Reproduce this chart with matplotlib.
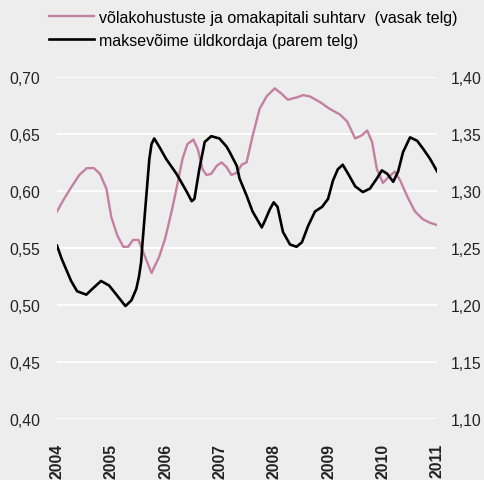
import matplotlib
matplotlib.use("Agg")
import matplotlib.pyplot as plt

plt.rcParams['font.family'] = ['Liberation Sans', 'DejaVu Sans']

# debt to equity ratio (left axis)
ratio_t = [2004.00, 2004.13, 2004.26, 2004.41, 2004.55, 2004.68, 2004.79, 2004.91,
           2005.00, 2005.11, 2005.22, 2005.31, 2005.40, 2005.50, 2005.64, 2005.74,
           2005.88, 2005.99, 2006.11, 2006.20, 2006.31, 2006.40, 2006.51, 2006.59,
           2006.68, 2006.75, 2006.84, 2006.94, 2007.03, 2007.12, 2007.21, 2007.31,
           2007.40, 2007.49, 2007.60, 2007.73, 2007.86, 2008.01, 2008.14, 2008.25,
           2008.41, 2008.53, 2008.65, 2008.84, 2009.02, 2009.21, 2009.34, 2009.49,
           2009.62, 2009.71, 2009.80, 2009.89, 2010.00, 2010.10, 2010.22, 2010.32,
           2010.45, 2010.59, 2010.74, 2010.87, 2011.00]
ratio_v = [0.582, 0.593, 0.603, 0.614, 0.620, 0.620, 0.615, 0.602,
           0.577, 0.561, 0.551, 0.551, 0.557, 0.557, 0.540, 0.528,
           0.542, 0.558, 0.582, 0.602, 0.628, 0.641, 0.645, 0.637,
           0.619, 0.614, 0.615, 0.622, 0.625, 0.621, 0.614, 0.616,
           0.623, 0.625, 0.648, 0.672, 0.683, 0.690, 0.685, 0.680,
           0.682, 0.684, 0.683, 0.678, 0.672, 0.667, 0.661, 0.646,
           0.649, 0.653, 0.643, 0.619, 0.607, 0.612, 0.617, 0.609,
           0.595, 0.582, 0.575, 0.572, 0.570]

# solvency ratio (right axis)
solv_t = [2004.00, 2004.09, 2004.26, 2004.37, 2004.54, 2004.65, 2004.81, 2004.96,
          2005.11, 2005.26, 2005.37, 2005.46, 2005.51, 2005.55, 2005.57, 2005.64,
          2005.70, 2005.74, 2005.79, 2005.88, 2006.01, 2006.20, 2006.38, 2006.48,
          2006.53, 2006.62, 2006.72, 2006.84, 2006.99, 2007.12, 2007.18, 2007.31,
          2007.36, 2007.49, 2007.60, 2007.77, 2007.82, 2007.92, 2007.99, 2008.06,
          2008.16, 2008.29, 2008.41, 2008.51, 2008.62, 2008.75, 2008.88, 2008.99,
          2009.08, 2009.17, 2009.26, 2009.36, 2009.49, 2009.63, 2009.76, 2009.89,
          2009.98, 2010.08, 2010.19, 2010.28, 2010.37, 2010.50, 2010.63, 2010.74,
          2010.87, 2011.00]
solv_v = [1.252, 1.240, 1.221, 1.212, 1.209, 1.214, 1.221, 1.217,
          1.208, 1.199, 1.204, 1.214, 1.225, 1.238, 1.252, 1.293,
          1.328, 1.341, 1.346, 1.339, 1.328, 1.315, 1.300, 1.291,
          1.293, 1.319, 1.343, 1.348, 1.346, 1.339, 1.334, 1.322,
          1.311, 1.296, 1.282, 1.268, 1.273, 1.284, 1.290, 1.286,
          1.264, 1.253, 1.251, 1.255, 1.269, 1.282, 1.286, 1.293,
          1.309, 1.319, 1.323, 1.315, 1.304, 1.299, 1.302, 1.311,
          1.318, 1.315, 1.308, 1.317, 1.334, 1.347, 1.344, 1.337,
          1.328, 1.317]

years = list(range(2004, 2012))
left_ticks = [0.40, 0.45, 0.50, 0.55, 0.60, 0.65, 0.70]
right_ticks = [1.10, 1.15, 1.20, 1.25, 1.30, 1.35, 1.40]

bg = '#ECEDEC'
pink = '#C47FA3'

fig = plt.figure(figsize=(4.85, 4.81), dpi=100, facecolor=bg)
ax = fig.add_axes([0.1175, 0.127, 0.784, 0.711], facecolor=bg)
ax2 = ax.twinx()

l1, = ax.plot(ratio_t, ratio_v, color=pink, lw=1.7, zorder=3,
              label='võlakohustuste ja omakapitali suhtarv  (vasak telg)')
l2, = ax2.plot(solv_t, solv_v, color='black', lw=1.9, zorder=4,
               label='maksevõime üldkordaja (parem telg)')

ax.set_xlim(2004, 2011)
ax.set_ylim(0.40, 0.70)
ax2.set_ylim(1.10, 1.40)
ax.set_yticks(left_ticks)
ax2.set_yticks(right_ticks)
ax.set_yticklabels([f'{v:.2f}'.replace('.', ',') for v in left_ticks])
ax2.set_yticklabels([f'{v:.2f}'.replace('.', ',') for v in right_ticks])
ax.set_xticks(years)
ax.set_xticklabels([str(y) for y in years], rotation=90, fontweight='bold', fontsize=10.3)

ax.grid(axis='y', color='white', lw=1.3, zorder=0)
ax.set_axisbelow(True)
for a in (ax, ax2):
    for s in a.spines.values():
        s.set_visible(False)
    a.tick_params(length=0, labelsize=11.3, colors='#222222')
ax.tick_params(axis='y', pad=12)
ax2.tick_params(axis='y', pad=10)
ax.tick_params(axis='x', pad=17)

fig.legend(handles=[l1, l2], loc='upper left', bbox_to_anchor=(0.1, 0.977),
           frameon=False, fontsize=11.5, handlelength=2.85, handletextpad=0.3,
           labelspacing=0.5, borderaxespad=0, borderpad=0)

fig.savefig('out.png', dpi=100, facecolor=bg)
